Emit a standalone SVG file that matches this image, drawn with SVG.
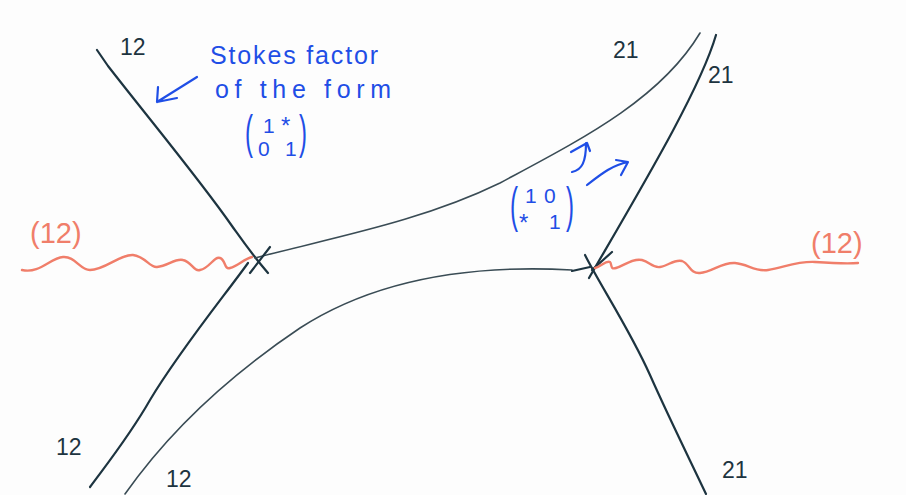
<svg xmlns="http://www.w3.org/2000/svg" width="906" height="495" viewBox="0 0 906 495">
  <defs>
    <style>
      .ln { fill: none; stroke: #1d3440; stroke-width: 2.2; stroke-linecap: round; stroke-linejoin: round; }
      .thin { fill: none; stroke: #3a4c55; stroke-width: 1.6; stroke-linecap: round; }
      .wave { fill: none; stroke: #f07e6a; stroke-width: 2.4; stroke-linecap: round; stroke-linejoin: round; }
      .blue { fill: none; stroke: #1f4ee6; stroke-width: 2.2; stroke-linecap: round; stroke-linejoin: round; }
      .lbl { font-family: "Liberation Sans", Arial, sans-serif; fill: #1d3440; font-size: 23px; }
      .sal { font-family: "Liberation Sans", Arial, sans-serif; fill: #f07e6a; font-size: 29px; }
      .bt { font-family: "Liberation Sans", Arial, sans-serif; fill: #1f4ee6; font-size: 25px; }
      .mx { font-family: "Liberation Sans", Arial, sans-serif; fill: #1f4ee6; font-size: 21px; }
      .st { font-family: "Liberation Sans", Arial, sans-serif; fill: #1f4ee6; font-size: 24px; }
      .par { font-family: "Liberation Sans", Arial, sans-serif; fill: #1f4ee6; font-size: 24px; }
    </style>
  </defs>
  <rect width="906" height="495" fill="#fdfdfd"/>

  <g id="connectors">
    <path class="ln" d="M97,50 L108,66 C150,120 200,180 232,226 C242,240 250,252 268,273"/>
    <path class="thin" d="M255,258 C330,238 420,222 500,183 C580,140 660,100 700,33"/>
    <path class="ln" d="M716,35 C700,90 640,190 589,278"/>
    <path class="ln" d="M248,263 C225,295 180,350 150,400 C130,435 110,460 90,487"/>
    <path class="thin" d="M572,270 C500,266 390,270 300,328 C230,375 170,430 125,494"/>
    <path class="ln" d="M585,255 C600,285 630,330 650,375 C670,420 690,460 706,494"/>
    <path class="ln" d="M270,247 L250,273"/>
    <path class="ln" d="M612,252 L592,270"/>
    <path class="ln" d="M572,271 L590,267"/>
  </g>

  <g id="branch-cuts">
    <path class="wave" d="M22,270 C40,274 50,258 63,257 C75,256 80,270 90,270 C105,270 120,254 133,255 C145,256 150,268 157,267 C168,266 175,258 183,260 C192,262 194,272 200,270 C210,268 214,256 220,258 C226,260 224,270 230,268 C238,266 244,259 252,257"/>
    <path class="wave" d="M595,268 C602,266 606,260 610,262 C612,264 610,270 616,268 C625,265 633,258 642,260 C650,262 652,268 660,267 C668,266 674,259 682,261 C690,264 690,274 700,273 C712,272 722,262 735,263 C748,264 755,272 768,270 C785,267 798,261 815,262 C830,263 845,264 858,263"/>
  </g>

  <g id="labels">
    <text class="lbl" x="120" y="55">12</text>
    <text class="lbl" x="613" y="58">21</text>
    <text class="lbl" x="708" y="83">21</text>
    <text class="lbl" x="56" y="455">12</text>
    <text class="lbl" x="166" y="487">12</text>
    <text class="lbl" x="722" y="478">21</text>
    <text class="sal" x="30" y="243">(12)</text>
    <text class="sal" x="811" y="253">(12)</text>
  </g>

  <g id="stokes-note">
    <text class="bt" x="210" y="64" textLength="168" lengthAdjust="spacing">Stokes factor</text>
    <text class="bt" x="215" y="98" textLength="176" lengthAdjust="spacing">of the form</text>
    <path class="blue" d="M197,77 L157,102 M158,87 L157,102 L177,98"/>
    <text class="par" transform="translate(245,148) scale(1,1.9)">(</text>
    <text class="par" transform="translate(299,148) scale(1,1.9)">)</text>
    <text class="mx" x="263" y="133">1</text>
    <text class="st" x="281" y="134">*</text>
    <text class="mx" x="258" y="156">0</text>
    <text class="mx" x="285" y="156">1</text>
  </g>

  <g id="inverse-note">
    <text class="par" transform="translate(510,222) scale(1,2.1)">(</text>
    <text class="par" transform="translate(566,222) scale(1,2.1)">)</text>
    <text class="mx" x="525" y="203">1</text>
    <text class="mx" x="544" y="203">0</text>
    <text class="st" x="519" y="231">*</text>
    <text class="mx" x="549" y="229">1</text>
    <path class="blue" d="M572,172 C582,170 586,162 586,143 M571,152 L587,143 L590,151"/>
    <path class="blue" d="M587,185 C600,175 612,165 628,162 M616,160 L628,162 L621,175"/>
  </g>
</svg>
